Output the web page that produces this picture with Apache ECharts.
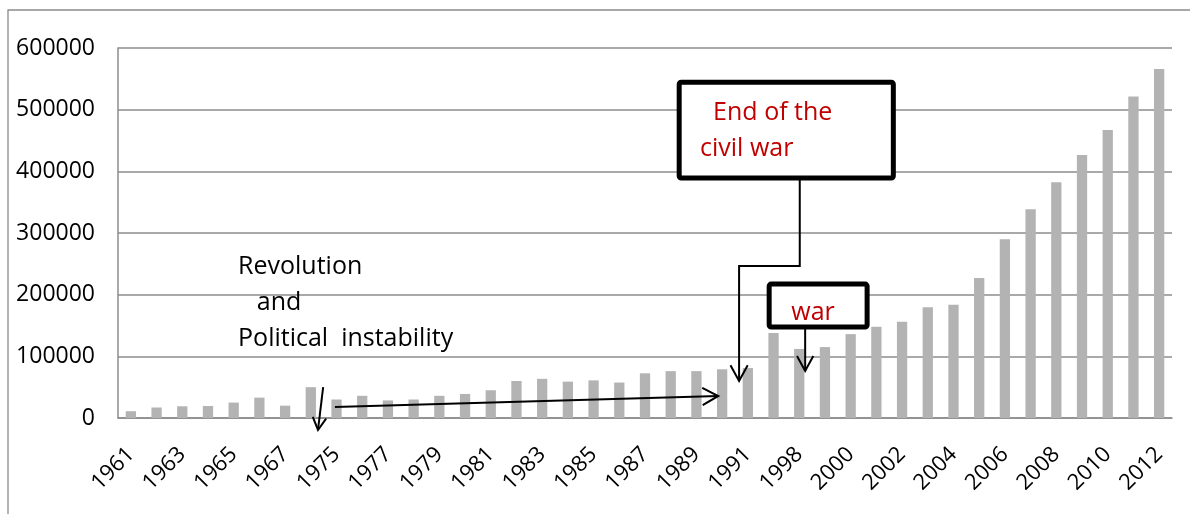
<!DOCTYPE html>
<html>
<head>
<meta charset="utf-8">
<script src="https://cdn.jsdelivr.net/npm/echarts@6/dist/echarts.min.js"></script>
<style>
html,body{margin:0;padding:0;background:#fff;}
#c{width:1190px;height:514px;}
</style>
</head>
<body>
<div id="c"></div>
<script>
// ---- data ----
var years = ['1961','1962','1963','1964','1965','1966','1967','1974','1975','1976','1977','1978','1979','1980','1981','1982','1983','1984','1985','1986','1987','1988','1989','1990','1991','1997','1998','1999','2000','2001','2002','2003','2004','2005','2006','2007','2008','2009','2010','2011','2012'];
var values = [11000,17000,19000,19500,25000,33000,20000,50000,30000,36000,28500,30000,36000,39000,45000,60000,63500,59000,61000,57500,72500,76000,76000,79000,81000,138000,112000,115000,136000,148000,156000,179500,183500,227000,290000,338500,382500,426500,467000,521500,566000];
var yTicks = {min: 0, max: 600000, interval: 100000};

var FONT = '"Open Sans", "Noto Sans", sans-serif';
var chart = echarts.init(document.getElementById('c'), null, {renderer: 'canvas'});

chart.setOption({
  animation: false,
  backgroundColor: '#fff',
  grid: {left: 118, right: 18, top: 48, bottom: 96, containLabel: false},
  xAxis: {
    type: 'category',
    data: years,
    axisLine: {lineStyle: {color: '#8c8c8c', width: 1.5}},
    axisTick: {show: false},
    axisLabel: {interval: 1, rotate: 45, margin: 33, color: '#000', fontFamily: FONT, fontSize: 22}
  },
  yAxis: {
    type: 'value',
    min: yTicks.min, max: yTicks.max, interval: yTicks.interval,
    axisLine: {show: true, lineStyle: {color: '#8c8c8c', width: 1.5}},
    axisTick: {show: false},
    splitLine: {lineStyle: {color: '#8c8c8c', width: 1.5}},
    axisLabel: {margin: 23, color: '#000', fontFamily: FONT, fontSize: 23, formatter: function (v) { return String(v); }}
  },
  series: [{
    type: 'bar',
    data: values,
    barWidth: '40%',
    itemStyle: {color: '#b3b3b3'},
    z: 2
  }]
});

// map fractional category index + value to pixel
function at(i, v) {
  var a = chart.convertToPixel({gridIndex: 0}, [0, v]);
  var b = chart.convertToPixel({gridIndex: 0}, [1, v]);
  return [a[0] + (b[0] - a[0]) * i, a[1]];
}
function line(p1, p2, w) {
  return {type: 'line', z: 100, shape: {x1: p1[0], y1: p1[1], x2: p2[0], y2: p2[1]}, style: {stroke: '#000', lineWidth: w || 2}};
}
function poly(pts, w) {
  return {type: 'polyline', z: 100, shape: {points: pts}, style: {stroke: '#000', fill: null, lineWidth: w || 2}};
}
function arrowHead(from, tip, len, ang) {
  var dx = tip[0] - from[0], dy = tip[1] - from[1];
  var d = Math.sqrt(dx * dx + dy * dy); dx /= d; dy /= d;
  var c = Math.cos(ang), s = Math.sin(ang);
  var a1 = [tip[0] - len * (dx * c - dy * s), tip[1] - len * (dy * c + dx * s)];
  var a2 = [tip[0] - len * (dx * c + dy * s), tip[1] - len * (dy * c - dx * s)];
  return poly([a1, tip, a2], 2);
}
function txt(p, s, color) {
  return {type: 'text', z: 101, x: p[0], y: p[1], style: {text: s, fill: color, font: '25px ' + FONT, textAlign: 'left', textVerticalAlign: 'middle'}};
}
function box(p1, p2) {
  return {type: 'rect', z: 99, shape: {x: p1[0], y: p1[1], width: p2[0] - p1[0], height: p2[1] - p1[1], r: 2}, style: {fill: '#fff', stroke: '#000', lineWidth: 5}};
}

var g = [];
// outer chart border
g.push({type: 'rect', z: 0, shape: {x: 8, y: 10, width: 1400, height: 800}, style: {fill: null, stroke: '#8c8c8c', lineWidth: 1.3}});

// Revolution annotation
g.push(txt(at(4.17, 244700), 'Revolution', '#000'));
g.push(txt(at(4.9, 186400), 'and', '#000'));
g.push(txt(at(4.17, 128000), 'Political  instability', '#000'));
var r1a = at(7.48, 50200), r1b = at(7.28, -19400);
g.push(line(r1a, r1b));
g.push(arrowHead(r1a, r1b, 14, 0.5));
var r2a = at(7.94, 17800), r2b = at(22.85, 35700);
g.push(line(r2a, r2b));
g.push(arrowHead(r2a, r2b, 18, 0.5));

// End of the civil war annotation
g.push(box(at(21.33, 544600), at(29.66, 389000)));
g.push(txt(at(22.65, 494300), 'End of the', '#c00000'));
g.push(txt(at(22.14, 436000), 'civil war', '#c00000'));
var c1 = at(26.02, 389000), c2 = at(26.02, 246400), c3 = at(23.66, 246400), c4 = at(23.66, 60000);
g.push(poly([c1, c2, c3, c4], 2));
g.push(arrowHead(c3, c4, 18, 0.5));

// war annotation
g.push(box(at(24.83, 217200), at(28.64, 147500)));
g.push(txt(at(25.69, 170200), 'war', '#c00000'));
var w1 = at(26.23, 147500), w2 = at(26.23, 76200);
g.push(line(w1, w2));
g.push(arrowHead(w1, w2, 17, 0.5));

chart.setOption({graphic: {elements: g}});
</script>
</body>
</html>
